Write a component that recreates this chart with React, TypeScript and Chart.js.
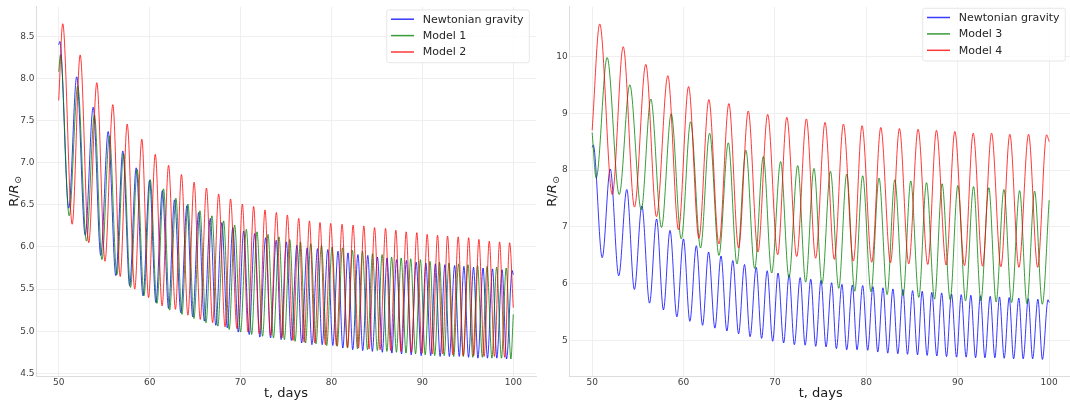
import React, { useEffect, useRef } from 'react';
import { Chart, registerables } from 'chart.js';

Chart.register(...registerables);

// ---------- tick labels ----------
const xTicks = [50, 60, 70, 80, 90, 100];
const leftYTicks = [4.5, 5.0, 5.5, 6.0, 6.5, 7.0, 7.5, 8.0, 8.5];
const rightYTicks = [5, 6, 7, 8, 9, 10];

// ---------- Newtonian gravity (extrema) ----------
const newtonT = [50.0, 50.12, 51.1, 51.98, 52.91, 53.79, 54.62, 55.44, 56.28, 57.05, 57.8, 58.52, 59.27, 59.99, 60.69, 61.4, 62.08, 62.74, 63.43, 64.1, 64.74, 65.39, 66.02, 66.67, 67.28, 67.95, 68.54, 69.15, 69.75, 70.34, 70.95, 71.55, 72.12, 72.76, 73.3, 73.92, 74.46, 75.04, 75.59, 76.2, 76.72, 77.33, 77.85, 78.47, 78.98, 79.6, 80.15, 80.72, 81.25, 81.82, 82.34, 82.91, 83.44, 84.0, 84.5, 85.06, 85.6, 86.11, 86.65, 87.16, 87.71, 88.24, 88.77, 89.32, 89.87, 90.38, 90.92, 91.43, 91.95, 92.48, 92.97, 93.55, 94.06, 94.57, 95.08, 95.63, 96.11, 96.68, 97.16, 97.72, 98.19, 98.77, 99.26, 99.88, 100.0];
const newtonR = [8.4, 8.44, 6.46, 8.02, 6.14, 7.66, 5.9, 7.37, 5.66, 7.14, 5.54, 6.94, 5.42, 6.79, 5.34, 6.67, 5.27, 6.56, 5.22, 6.49, 5.17, 6.41, 5.12, 6.34, 5.07, 6.29, 5.04, 6.23, 4.99, 6.19, 4.96, 6.16, 4.93, 6.11, 4.92, 6.08, 4.9, 6.06, 4.89, 6.02, 4.86, 5.99, 4.84, 5.98, 4.84, 5.97, 4.83, 5.95, 4.8, 5.93, 4.78, 5.91, 4.77, 5.9, 4.76, 5.88, 4.75, 5.87, 4.74, 5.85, 4.73, 5.84, 4.72, 5.82, 4.71, 5.81, 4.71, 5.8, 4.7, 5.79, 4.7, 5.78, 4.7, 5.77, 4.69, 5.76, 4.68, 5.75, 4.68, 5.74, 4.68, 5.73, 4.67, 5.72, 5.67];

// ---------- Model 1 ----------
const model1T = [50.0, 50.19, 51.15, 52.09, 53.05, 53.93, 54.75, 55.58, 56.4, 57.13, 57.9, 58.63, 59.38, 60.07, 60.8, 61.53, 62.2, 62.89, 63.55, 64.21, 64.87, 65.53, 66.2, 66.85, 67.5, 68.14, 68.75, 69.35, 70.0, 70.64, 71.22, 71.81, 72.42, 73.02, 73.62, 74.23, 74.82, 75.41, 76.0, 76.59, 77.15, 77.72, 78.3, 78.9, 79.48, 80.07, 80.64, 81.21, 81.76, 82.31, 82.86, 83.41, 83.96, 84.52, 85.05, 85.57, 86.1, 86.62, 87.15, 87.67, 88.2, 88.72, 89.25, 89.78, 90.31, 90.84, 91.36, 91.88, 92.4, 92.93, 93.45, 93.98, 94.5, 95.02, 95.55, 96.07, 96.6, 97.12, 97.65, 98.17, 98.7, 99.22, 99.74, 100.0];
const model1R = [8.08, 8.28, 6.37, 7.91, 6.07, 7.57, 5.85, 7.32, 5.67, 7.11, 5.52, 6.92, 5.42, 6.8, 5.33, 6.69, 5.25, 6.58, 5.2, 6.51, 5.15, 6.43, 5.1, 6.37, 5.06, 6.31, 5.02, 6.26, 4.99, 6.21, 4.96, 6.18, 4.94, 6.15, 4.92, 6.12, 4.9, 6.09, 4.88, 6.06, 4.86, 6.04, 4.85, 6.02, 4.83, 6.0, 4.82, 5.99, 4.8, 5.96, 4.79, 5.95, 4.78, 5.92, 4.77, 5.91, 4.76, 5.88, 4.75, 5.87, 4.74, 5.86, 4.73, 5.85, 4.72, 5.83, 4.71, 5.82, 4.71, 5.81, 4.7, 5.8, 4.7, 5.79, 4.69, 5.78, 4.69, 5.77, 4.68, 5.76, 4.68, 5.75, 4.67, 5.2];

// ---------- Model 2 ----------
const model2T = [50.0, 50.44, 51.48, 52.36, 53.3, 54.19, 55.09, 55.95, 56.76, 57.53, 58.36, 59.14, 59.88, 60.62, 61.37, 62.08, 62.84, 63.5, 64.21, 64.89, 65.57, 66.25, 66.93, 67.59, 68.3, 68.9, 69.6, 70.2, 70.82, 71.44, 72.07, 72.69, 73.3, 73.94, 74.55, 75.15, 75.77, 76.4, 76.99, 77.58, 78.16, 78.74, 79.33, 79.92, 80.55, 81.17, 81.77, 82.38, 82.97, 83.56, 84.15, 84.74, 85.35, 85.95, 86.52, 87.08, 87.65, 88.22, 88.8, 89.39, 89.96, 90.53, 91.1, 91.67, 92.22, 92.77, 93.35, 93.94, 94.51, 95.09, 95.65, 96.22, 96.79, 97.36, 97.93, 98.5, 99.05, 99.6, 100.0];
const model2R = [7.74, 8.65, 6.27, 8.28, 6.05, 7.95, 5.83, 7.69, 5.65, 7.46, 5.5, 7.28, 5.4, 7.1, 5.3, 6.97, 5.26, 6.86, 5.19, 6.77, 5.14, 6.7, 5.1, 6.63, 5.05, 6.57, 5.03, 6.51, 4.99, 6.48, 4.97, 6.44, 4.95, 6.41, 4.92, 6.38, 4.89, 6.34, 4.87, 6.31, 4.86, 6.29, 4.84, 6.28, 4.83, 6.27, 4.81, 6.26, 4.8, 6.25, 4.79, 6.23, 4.78, 6.22, 4.77, 6.2, 4.76, 6.18, 4.75, 6.17, 4.74, 6.15, 4.73, 6.14, 4.73, 6.13, 4.72, 6.12, 4.71, 6.11, 4.71, 6.09, 4.7, 6.07, 4.7, 6.06, 4.69, 6.05, 5.28];

// ---------- Model 3 ----------
const model3T = [50.0, 50.44, 51.64, 52.96, 54.12, 55.37, 56.42, 57.59, 58.65, 59.75, 60.77, 61.86, 62.85, 63.87, 64.9, 65.84, 66.82, 67.78, 68.73, 69.64, 70.62, 71.53, 72.49, 73.36, 74.27, 75.15, 76.07, 76.98, 77.85, 78.73, 79.6, 80.51, 81.39, 82.27, 83.11, 84.02, 84.86, 85.74, 86.58, 87.46, 88.29, 89.17, 90.01, 90.85, 91.73, 92.53, 93.4, 94.2, 95.05, 95.89, 96.77, 97.57, 98.41, 99.25, 100.0];
const model3R = [8.66, 7.86, 9.98, 7.57, 9.5, 7.3, 9.25, 6.99, 8.99, 6.79, 8.85, 6.63, 8.65, 6.5, 8.48, 6.35, 8.35, 6.27, 8.24, 6.19, 8.15, 6.11, 8.08, 6.03, 8.03, 6.0, 7.98, 5.92, 7.93, 5.87, 7.9, 5.86, 7.86, 5.81, 7.83, 5.79, 7.81, 5.76, 7.78, 5.73, 7.76, 5.72, 7.73, 5.7, 7.71, 5.7, 7.69, 5.68, 7.66, 5.67, 7.64, 5.65, 7.63, 5.64, 7.47];

// ---------- Model 4 ----------
const model4T = [50.0, 50.83, 52.2, 53.4, 54.63, 55.87, 57.04, 58.28, 59.45, 60.55, 61.68, 62.77, 63.87, 64.96, 66.02, 67.08, 68.14, 69.2, 70.3, 71.3, 72.38, 73.44, 74.45, 75.48, 76.5, 77.49, 78.58, 79.53, 80.59, 81.58, 82.64, 83.62, 84.64, 85.66, 86.72, 87.67, 88.73, 89.68, 90.74, 91.69, 92.71, 93.7, 94.72, 95.7, 96.69, 97.75, 98.74, 99.72, 100.0];
const model4R = [8.7, 10.57, 7.57, 10.17, 7.35, 9.86, 7.18, 9.66, 6.95, 9.47, 6.8, 9.24, 6.7, 9.17, 6.63, 9.04, 6.56, 8.98, 6.51, 8.93, 6.48, 8.9, 6.45, 8.84, 6.43, 8.81, 6.4, 8.78, 6.38, 8.75, 6.37, 8.73, 6.35, 8.72, 6.34, 8.7, 6.33, 8.68, 6.32, 8.65, 6.31, 8.65, 6.3, 8.63, 6.29, 8.63, 6.29, 8.62, 8.5];

const BLUE = 'rgba(0,0,255,0.78)';
const GREEN = 'rgba(0,128,0,0.78)';
const RED = 'rgba(255,0,0,0.78)';
const FONT = '"DejaVu Sans", "Liberation Sans", sans-serif';

function pts(t: number[], r: number[]) {
  return t.map((x, i) => ({ x, y: r[i] }));
}

type Series = { label: string; t: number[]; r: number[]; color: string };
type PanelCfg = {
  series: Series[];
  yMin: number;
  yMax: number;
  yTicks: number[];
  yFmt: (v: number) => string;
  top: number;
  xh: number;
  yw: number;
  yTitleX: number;
  legendY: number;
};

function titlesPlugin(cfg: PanelCfg) {
  return {
    id: 'axisTitles',
    afterDraw(chart: any) {
      const { ctx, chartArea } = chart;
      ctx.save();
      ctx.fillStyle = '#1a1a1a';
      ctx.font = `13px ${FONT}`;
      ctx.textAlign = 'center';
      ctx.textBaseline = 'alphabetic';
      ctx.fillText('t, days', (chartArea.left + chartArea.right) / 2, 397);

      const cy = (chartArea.top + chartArea.bottom) / 2;
      ctx.translate(cfg.yTitleX, cy);
      ctx.rotate(-Math.PI / 2);
      ctx.textAlign = 'left';
      const f1 = `13px ${FONT}`;
      const f2 = `italic 13px ${FONT}`;
      const f3 = `9px ${FONT}`;
      ctx.font = f1;
      const w1 = ctx.measureText('R/').width;
      ctx.font = f2;
      const w2 = ctx.measureText('R').width;
      ctx.font = f3;
      const w3 = ctx.measureText('⊙').width;
      let x = -(w1 + w2 + w3) / 2;
      ctx.font = f1;
      ctx.fillText('R/', x, 0);
      x += w1;
      ctx.font = f2;
      ctx.fillText('R', x, 0);
      x += w2 + 0.5;
      ctx.font = f3;
      ctx.fillText('⊙', x, 3);
      ctx.restore();
    },
  };
}

function legendPlugin(cfg: PanelCfg) {
  return {
    id: 'boxLegend',
    afterDraw(chart: any) {
      const { ctx } = chart;
      const bx = 386.7;
      const by = cfg.legendY;
      const bw = 142.6;
      const bh = 52.7;
      ctx.save();
      ctx.fillStyle = 'rgba(255,255,255,0.8)';
      ctx.strokeStyle = 'rgba(225,225,225,0.8)';
      ctx.lineWidth = 1;
      ctx.beginPath();
      if (ctx.roundRect) ctx.roundRect(bx, by, bw, bh, 2);
      else ctx.rect(bx, by, bw, bh);
      ctx.fill();
      ctx.stroke();
      const rows = [9.2, 25.6, 42.0];
      cfg.series.forEach((s, i) => {
        const y = by + rows[i];
        ctx.strokeStyle = s.color;
        ctx.lineWidth = 1.5;
        ctx.beginPath();
        ctx.moveTo(bx + 4.3, y);
        ctx.lineTo(bx + 27.3, y);
        ctx.stroke();
        ctx.fillStyle = '#262626';
        ctx.font = `11px ${FONT}`;
        ctx.textAlign = 'left';
        ctx.textBaseline = 'middle';
        ctx.fillText(s.label, bx + 36, y + 0.5);
      });
      ctx.restore();
    },
  };
}

function makeConfig(cfg: PanelCfg): any {
  const datasets = [...cfg.series].reverse().map((s) => ({
    label: s.label,
    data: pts(s.t, s.r),
    borderColor: s.color,
    backgroundColor: s.color,
    borderWidth: 1,
    pointRadius: 0,
    fill: false,
    cubicInterpolationMode: 'monotone',
  }));
  const tickFont = { family: FONT, size: 9 };
  return {
    type: 'line',
    data: { datasets },
    options: {
      animation: false,
      responsive: false,
      devicePixelRatio: 1,
      parsing: false,
      events: [],
      layout: { padding: { left: 0, top: cfg.top, right: 4, bottom: 0 } },
      plugins: { legend: { display: false }, tooltip: { enabled: false }, title: { display: false } },
      scales: {
        x: {
          type: 'linear',
          min: 47.5,
          max: 102.5,
          afterFit: (s: any) => {
            s.height = cfg.xh;
          },
          afterBuildTicks: (s: any) => {
            s.ticks = xTicks.map((v) => ({ value: v }));
          },
          grid: { color: '#efefef', lineWidth: 1, drawTicks: false },
          border: { display: true, color: '#dddddd', width: 1 },
          ticks: {
            font: tickFont,
            color: '#404040',
            padding: 1,
            maxRotation: 0,
            autoSkip: false,
            callback: (v: number) => String(v),
          },
        },
        y: {
          type: 'linear',
          min: cfg.yMin,
          max: cfg.yMax,
          afterFit: (s: any) => {
            s.width = cfg.yw;
          },
          afterBuildTicks: (s: any) => {
            s.ticks = cfg.yTicks.map((v) => ({ value: v }));
          },
          grid: { color: '#efefef', lineWidth: 1, drawTicks: false },
          border: { display: true, color: '#dddddd', width: 1 },
          ticks: {
            font: tickFont,
            color: '#404040',
            padding: 1.5,
            autoSkip: false,
            callback: (v: number) => cfg.yFmt(v),
          },
        },
      },
    },
    plugins: [titlesPlugin(cfg), legendPlugin(cfg)],
  };
}

const leftCfg: PanelCfg = {
  series: [
    { label: 'Newtonian gravity', t: newtonT, r: newtonR, color: BLUE },
    { label: 'Model 1', t: model1T, r: model1R, color: GREEN },
    { label: 'Model 2', t: model2T, r: model2R, color: RED },
  ],
  yMin: 4.46,
  yMax: 8.85,
  yTicks: leftYTicks,
  yFmt: (v) => v.toFixed(1),
  top: 5,
  xh: 28.3,
  yw: 36,
  yTitleX: 17.5,
  legendY: 10,
};

const rightCfg: PanelCfg = {
  series: [
    { label: 'Newtonian gravity', t: newtonT, r: newtonR, color: BLUE },
    { label: 'Model 3', t: model3T, r: model3R, color: GREEN },
    { label: 'Model 4', t: model4T, r: model4R, color: RED },
  ],
  yMin: 4.37,
  yMax: 10.87,
  yTicks: rightYTicks,
  yFmt: (v) => String(v),
  top: 3,
  xh: 28.5,
  yw: 33.3,
  yTitleX: 20,
  legendY: 8.3,
};

export default function App() {
  const leftRef = useRef<HTMLCanvasElement>(null);
  const rightRef = useRef<HTMLCanvasElement>(null);
  useEffect(() => {
    const c1 = new Chart(leftRef.current as HTMLCanvasElement, makeConfig(leftCfg));
    const c2 = new Chart(rightRef.current as HTMLCanvasElement, makeConfig(rightCfg));
    return () => {
      c1.destroy();
      c2.destroy();
    };
  }, []);
  return (
    <div
      style={{
        position: 'absolute',
        left: 0,
        top: 0,
        width: 1070,
        height: 405,
        overflow: 'hidden',
        background: '#ffffff',
      }}
    >
      <canvas ref={leftRef} width={540} height={405} style={{ position: 'absolute', left: 0, top: 0 }} />
      <canvas ref={rightRef} width={540} height={405} style={{ position: 'absolute', left: 536, top: 0 }} />
    </div>
  );
}
